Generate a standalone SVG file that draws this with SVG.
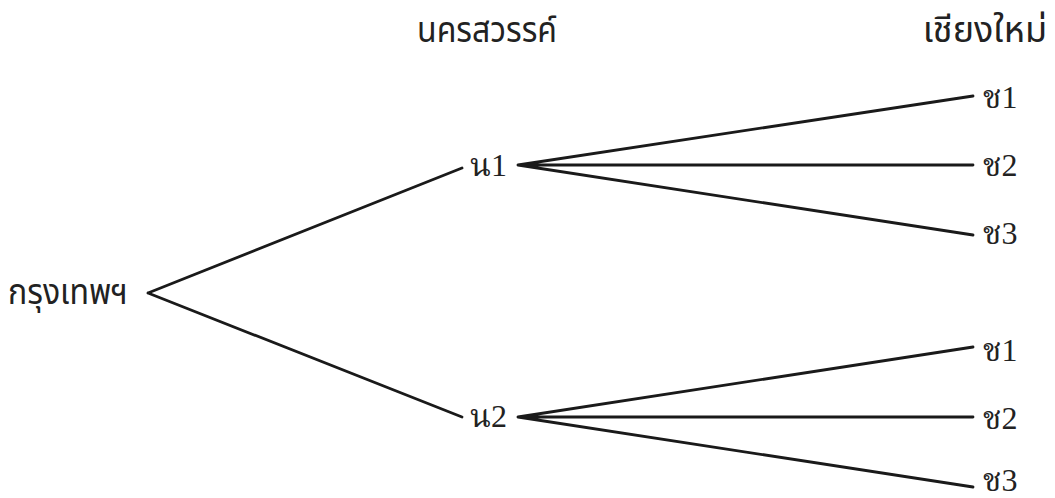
<svg xmlns="http://www.w3.org/2000/svg" width="1055" height="498" viewBox="0 0 1055 498">
<style>
.th{font-family:"Noto Sans Thai","Noto Sans","DejaVu Sans","Liberation Sans",sans-serif;font-size:36px;fill:#222}
.lb{font-family:"Liberation Serif","Noto Serif Thai","Noto Sans Thai","DejaVu Serif",serif;font-size:32px;fill:#222}
.e{stroke:#1a1a1a;stroke-width:2.8;fill:none;stroke-linecap:round}
</style>
<rect width="1055" height="498" fill="#fff"/>
<g id="headers">
<text class="th" x="417" y="42" textLength="140" lengthAdjust="spacingAndGlyphs">นครสวรรค์</text>
<text class="th" x="1047" y="42" font-size="31" text-anchor="end">เชียงใหม่</text>
</g>
<g id="connectors">
<path class="e" d="M148,293 L462,168 M148,293 L462,417"/>
<path class="e" d="M518,165 L973,96 M518,165 L973,165 M518,165 L973,235"/>
<path class="e" d="M518,417 L973,347 M518,417 L973,417 M518,417 L973,487"/>
</g>
<g id="root"><text class="th" x="8" y="304" font-size="40" textLength="120" lengthAdjust="spacingAndGlyphs">กรุงเทพฯ</text></g>
<g id="n1"><text class="lb" x="470" y="176">น1</text></g>
<g id="n2"><text class="lb" x="470" y="427">น2</text></g>
<g id="n1c1"><text class="lb" x="983" y="108">ช1</text></g>
<g id="n1c2"><text class="lb" x="983" y="176">ช2</text></g>
<g id="n1c3"><text class="lb" x="983" y="244">ช3</text></g>
<g id="n2c1"><text class="lb" x="983" y="361">ช1</text></g>
<g id="n2c2"><text class="lb" x="983" y="429">ช2</text></g>
<g id="n2c3"><text class="lb" x="983" y="491">ช3</text></g>
</svg>
